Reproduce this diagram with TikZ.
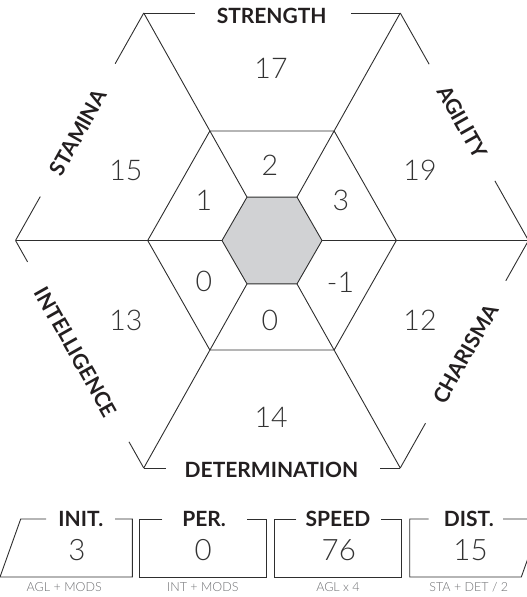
\documentclass[tikz,border=0pt]{standalone}
\usepackage{fontspec}
\setmainfont{Lato}
\newfontfamily\lightfont{Lato Light}
\newfontfamily\boldlato{Lato Bold}
\usetikzlibrary{calc}
\definecolor{linec}{HTML}{2E2E2E}
\definecolor{hexfill}{HTML}{D1D2D4}
\definecolor{numc}{HTML}{333333}
\definecolor{labc}{HTML}{231F20}
\definecolor{smallc}{HTML}{6D6E71}
\tikzset{
  edge/.style={draw=linec, line width=0.9pt, line join=miter},
  lab/.style={inner sep=0pt, text=labc, font=\boldlato\fontsize{21}{21}\selectfont},
  num/.style={inner sep=0pt, text=numc, font=\lightfont\fontsize{28.5}{28.5}\selectfont},
  boxnum/.style={inner sep=0pt, text=numc, font=\lightfont\fontsize{29.5}{29.5}\selectfont},
  small/.style={inner sep=0pt, text=smallc, font=\lightfont\fontsize{12.5}{12.5}\selectfont},
}
\begin{document}
\begin{tikzpicture}[x=1pt,y=-1pt]
\useasboundingbox (0,0) rectangle (527,597);
\clip (0,0) rectangle (527,597);
% outer hexagon vertices
\coordinate (O0) at (528.5,240.5);
\coordinate (O60) at (400.25,13);
\coordinate (O120) at (143.75,13);
\coordinate (O180) at (15.5,240.5);
\coordinate (O240) at (143.75,468);
\coordinate (O300) at (400.25,468);
% middle hexagon
\coordinate (M0) at (396.3,240.5);
\coordinate (M60) at (334.15,131);
\coordinate (M120) at (209.85,131);
\coordinate (M180) at (147.7,240.5);
\coordinate (M240) at (209.85,350);
\coordinate (M300) at (334.15,350);
% inner hexagon
\coordinate (G0) at (322,240.5);
\coordinate (G60) at (297,197.1);
\coordinate (G120) at (247,197.1);
\coordinate (G180) at (222,240.5);
\coordinate (G240) at (247,283.9);
\coordinate (G300) at (297,283.9);

% spokes
\foreach \a in {0,60,120,180,240,300}{
  \draw[edge] (G\a) -- (O\a);
}
% middle hexagon
\draw[edge] (M0) -- (M60) -- (M120) -- (M180) -- (M240) -- (M300) -- cycle;
% inner filled hexagon
\filldraw[edge, fill=hexfill] (G0) -- (G60) -- (G120) -- (G180) -- (G240) -- (G300) -- cycle;

% outer edges with gaps for labels
\draw[edge] (O120) -- ($(O120)!0.199!(O60)$);
\draw[edge] ($(O120)!0.809!(O60)$) -- (O60);
\draw[edge] (O60) -- ($(O60)!0.225!(O0)$);
\draw[edge] ($(O60)!0.738!(O0)$) -- (O0);
\draw[edge] (O0) -- ($(O0)!0.177!(O300)$);
\draw[edge] ($(O0)!0.803!(O300)$) -- (O300);
\draw[edge] (O300) -- ($(O300)!0.078!(O240)$);
\draw[edge] ($(O300)!0.915!(O240)$) -- (O240);
\draw[edge] (O240) -- ($(O240)!0.115!(O180)$);
\draw[edge] ($(O240)!0.906!(O180)$) -- (O180);
\draw[edge] (O180) -- ($(O180)!0.193!(O120)$);
\draw[edge] ($(O180)!0.777!(O120)$) -- (O120);

% labels
\node[lab] (str) at (271.7,15.8) {STRENGTH};
\node[lab, rotate=-60.6] (agi) at (462.2,121.7) {AGILITY};
\node[lab, rotate=60.6] (cha) at (465.5,354) {CHARISMA};
\node[lab] (det) at (271.5,469.7) {DETERMINATION};
\node[lab, rotate=-60.6] (int) at (76,352) {INTELLIGENCE};
\node[lab, rotate=60.6] (sta) at (78.3,132.5) {STAMINA};

% outer numbers
\node[num] (n17) at (271,68.7) {17};
\node[num] (n19) at (420,170.8) {19};
\node[num] (n12) at (420,320.5) {12};
\node[num] (n14) at (271.2,417.5) {14};
\node[num] (n13) at (125.8,320.5) {13};
\node[num] (n15) at (125.8,170.3) {15};
% inner numbers
\node[num] (i2) at (270,165) {2};
\node[num] (i3) at (340.8,200) {3};
\node[num] (im1) at (340.5,282.5) {-1};
\node[num] (i0b) at (270,320.3) {0};
\node[num] (i0l) at (203.8,281.7) {0};
\node[num] (i1) at (204,200) {1};

% bottom boxes
\draw[edge] (46,519) -- (20.7,519) -- (0,577) -- (132.3,577) -- (132.3,519) -- (115,519);
\draw[edge] (162.3,519) -- (139.3,519) -- (139.3,577) -- (266.3,577) -- (266.3,519) -- (246.7,519);
\draw[edge] (296.3,519) -- (274.7,519) -- (274.7,577) -- (401.3,577) -- (401.3,519) -- (381.3,519);
\draw[edge] (428.7,519) -- (409.7,519) -- (409.7,577) -- (521.3,577) -- (542,519) -- (503,519);

\node[lab] (init) at (80.8,519) {INIT.};
\node[boxnum] (vinit) at (77,550) {3};
\node[small] (finit) at (64.2,587) {AGL + MODS};

\node[lab] (per) at (204.2,519) {PER.};
\node[boxnum] (vper) at (203.3,550) {0};
\node[small] (fper) at (202.8,587) {INT + MODS};

\node[lab] (spd) at (338,519) {SPEED};
\node[boxnum] (vspd) at (338.8,550) {76};
\node[small] (fspd) at (338,587) {AGL x 4};

\node[lab] (dist) at (468.8,519) {DIST.};
\node[boxnum] (vdist) at (470.5,550) {15};
\node[small] (fdist) at (468.8,587) {STA + DET / 2};
\end{tikzpicture}
\end{document}
